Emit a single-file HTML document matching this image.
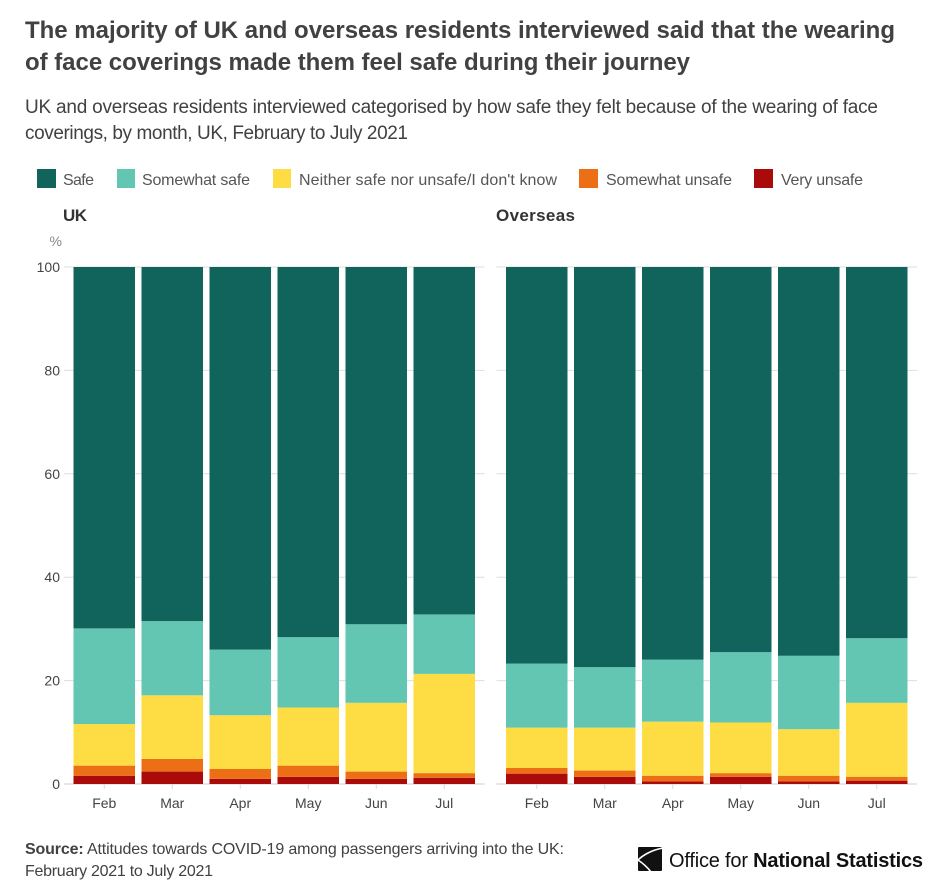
<!DOCTYPE html>
<html lang="en">
<head>
<meta charset="utf-8">
<title>Face coverings chart</title>
<style>
html,body{margin:0;padding:0;background:#fff;width:949px;height:896px;overflow:hidden}
svg{display:block;font-family:"Liberation Sans",sans-serif}
</style>
</head>
<body>
<svg id="chart" width="949" height="896" viewBox="0 0 949 896" xmlns="http://www.w3.org/2000/svg">
  <rect width="949" height="896" fill="#fff"/>
  <g font-size="24" font-weight="700" fill="#414042">
    <text x="25" y="38" textLength="870" lengthAdjust="spacing">The majority of UK and overseas residents interviewed said that the wearing</text>
    <text x="25" y="70" textLength="665" lengthAdjust="spacing">of face coverings made them feel safe during their journey</text>
  </g>
  <g font-size="19" fill="#414042">
    <text x="25" y="113" textLength="853" lengthAdjust="spacing">UK and overseas residents interviewed categorised by how safe they felt because of the wearing of face</text>
    <text x="25" y="139" textLength="383" lengthAdjust="spacing">coverings, by month, UK, February to July 2021</text>
  </g>
  <g id="legend"></g>
  <g id="panels"></g>
  <g font-size="16" fill="#414042">
    <text x="25" y="854" textLength="539" lengthAdjust="spacing"><tspan font-weight="700">Source:</tspan> Attitudes towards COVID-19 among passengers arriving into the UK:</text>
    <text x="25" y="876" textLength="188" lengthAdjust="spacing">February 2021 to July 2021</text>
  </g>
  <g>
    <rect x="638" y="847" width="24" height="24" rx="1" fill="#111"/>
    <path d="M663 848C651 850 642 856 638 860C644 864 648 868 651 872" fill="none" stroke="#fff" stroke-width="1.6"/>
    <text x="669" y="867" font-size="20" fill="#111" textLength="254" lengthAdjust="spacing">Office for <tspan font-weight="700">National Statistics</tspan></text>
  </g>
</svg>
<script>
const months = ["Feb", "Mar", "Apr", "May", "Jun", "Jul"];
const yTicks = [0, 20, 40, 60, 80, 100];
const seriesNames = ["Very unsafe", "Somewhat unsafe", "Neither safe nor unsafe/I don't know", "Somewhat safe", "Safe"];

const ukVeryUnsafe = [1.6, 2.4, 1.0, 1.4, 1.0, 1.2];
const ukSomewhatUnsafe = [1.95, 2.45, 1.9, 2.15, 1.4, 0.9];
const ukNeither = [8.05, 12.3, 10.4, 11.25, 13.3, 19.2];
const ukSomewhatSafe = [18.5, 14.35, 12.7, 13.6, 15.2, 11.5];
const ukSafe = [69.9, 68.5, 74.0, 71.6, 69.1, 67.2];

const overseasVeryUnsafe = [2.0, 1.4, 0.5, 1.4, 0.5, 0.65];
const overseasSomewhatUnsafe = [1.1, 1.2, 1.1, 0.7, 1.1, 0.75];
const overseasNeither = [7.8, 8.3, 10.46, 9.8, 9.0, 14.3];
const overseasSomewhatSafe = [12.4, 11.7, 11.99, 13.6, 14.2, 12.5];
const overseasSafe = [76.7, 77.4, 75.95, 74.5, 75.2, 71.8];

const seriesColors = ["#ab0a0a", "#ec6f15", "#fedc44", "#62c6b3", "#10645c"];
const NS = "http://www.w3.org/2000/svg";
const plotTop = 267;
const plotBottom = 784;
const step = 68;
const barWidth = 61.5;
const gridLeftPad = 9.5;
const gridRightPad = 4.5;

function yScale(v) {
  return plotBottom - (v / 100) * (plotBottom - plotTop);
}
function xBand(panelLeft, i) {
  return panelLeft + i * step;
}
function make(tag, attrs, text) {
  const el = document.createElementNS(NS, tag);
  for (const k in attrs) el.setAttribute(k, attrs[k]);
  if (text !== undefined) el.textContent = text;
  return el;
}

function drawPanel(root, panelName, title, titleX, titleLen, left, seriesList, showLabels) {
  const g = make("g", {});
  
  
  root.appendChild(g);

  const heading = make("text", {x: titleX, y: 221, "font-size": 17, "font-weight": 700, fill: "#333", textLength: titleLen, lengthAdjust: "spacing"}, title);
  
  
  g.appendChild(heading);

  yTicks.forEach(function (t) {
    const line = make("line", {x1: left - gridLeftPad, x2: left + step * 6 - 1.5 + gridRightPad, y1: yScale(t), y2: yScale(t), stroke: t === 0 ? "#dcc4cc" : "#dedede", "stroke-width": 1});
    
    
    g.appendChild(line);
    if (showLabels) {
      const lab = make("text", {x: 60, y: yScale(t) + 5, "font-size": 14, fill: "#444", "text-anchor": "end"}, String(t));
      
      
      g.appendChild(lab);
    }
  });

  months.forEach(function (m, i) {
    const x = xBand(left, i);
    let cumulative = 0;
    seriesList.forEach(function (series, s) {
      const v = series[i];
      const rect = make("rect", {x: x, y: yScale(cumulative + v), width: barWidth, height: yScale(cumulative) - yScale(cumulative + v), fill: seriesColors[s]});
      
      
      g.appendChild(rect);
      cumulative += v;
    });
    const cx = x + barWidth / 2;
    const tick = make("line", {x1: cx, x2: cx, y1: plotBottom, y2: plotBottom + 5, stroke: "#d8d8d8", "stroke-width": 1});
    
    
    g.appendChild(tick);
    const lab = make("text", {x: cx, y: 808, "font-size": 14, fill: "#444", "text-anchor": "middle"}, m);
    
    
    g.appendChild(lab);
  });
}

const panels = document.getElementById("panels");
const unit = make("text", {x: 62, y: 246, "font-size": 14, fill: "#888", "text-anchor": "end"}, "%");


panels.appendChild(unit);

drawPanel(panels, "uk", "UK", 63, 24, 73.5,
  [ukVeryUnsafe, ukSomewhatUnsafe, ukNeither, ukSomewhatSafe, ukSafe], true);
drawPanel(panels, "overseas", "Overseas", 496, 79, 506,
  [overseasVeryUnsafe, overseasSomewhatUnsafe, overseasNeither, overseasSomewhatSafe, overseasSafe], false);

const legendOrder = [4, 3, 2, 1, 0];
const legendLayout = [
  {swatch: 37, w: 19, label: 63, len: 31},
  {swatch: 117, w: 18, label: 142, len: 108},
  {swatch: 273, w: 18, label: 299, len: 258},
  {swatch: 579, w: 19, label: 606, len: 126},
  {swatch: 754, w: 19, label: 781, len: 82}
];
const legend = document.getElementById("legend");
legendOrder.forEach(function (s, i) {
  const pos = legendLayout[i];
  const entry = make("g", {});
  
  
  const sw = make("rect", {x: pos.swatch, y: 169, width: pos.w, height: 19, fill: seriesColors[s]});
  
  
  entry.appendChild(sw);
  const tx = make("text", {x: pos.label, y: 185, "font-size": 16, fill: "#555", textLength: pos.len, lengthAdjust: "spacing"}, seriesNames[s]);
  
  
  entry.appendChild(tx);
  legend.appendChild(entry);
});
</script>
</body>
</html>
